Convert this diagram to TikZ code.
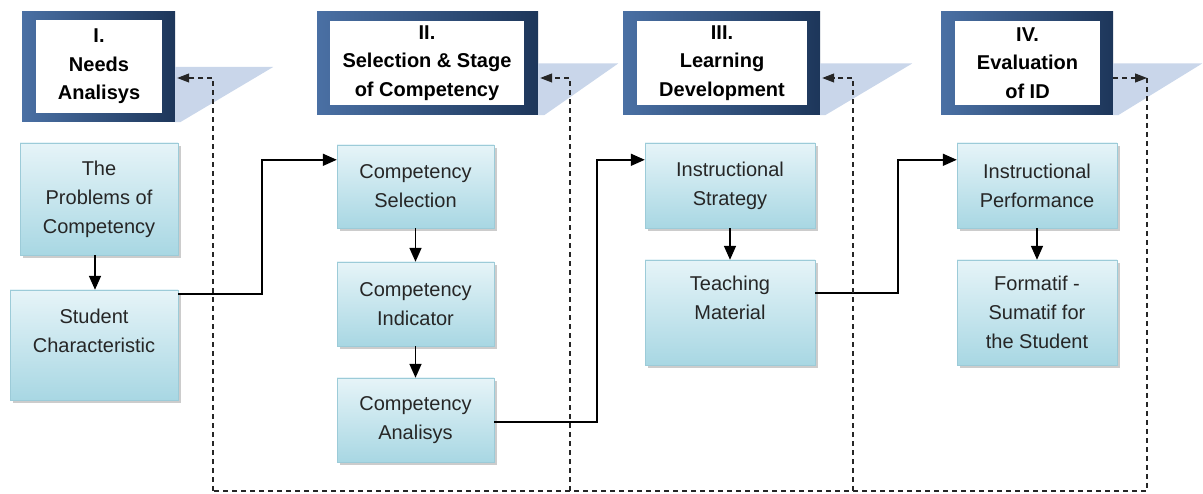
\documentclass[tikz,border=0pt]{standalone}
\usepackage{fontspec}
\setmainfont{Liberation Sans}
\usetikzlibrary{arrows.meta,shadows}

\definecolor{boxtop}{HTML}{E6F4F8}
\definecolor{boxbottom}{HTML}{A8D7E3}
\definecolor{boxline}{HTML}{9CCBD8}
\definecolor{framelight}{HTML}{4A70A4}
\definecolor{framedark}{HTML}{1D365A}
\definecolor{frameshade}{HTML}{C9D6EA}

\tikzset{
 stagebox/.style = {draw = boxline, top color = boxtop, bottom color = boxbottom, align = center, inner sep = 0pt, text = black!85, font = \fontsize{20}{29}\selectfont, drop shadow = {shadow xshift = 3pt, shadow yshift = -3pt, fill = black!40}},
 headframe/.style = {left color = framelight, right color = framedark, inner sep = 0pt},
 headbox/.style = {fill = white, align = center, inner sep = 0pt, font = \bfseries\fontsize{20}{28.5}\selectfont},
 headshadow/.style = {fill = frameshade},
 link/.style = {line width = 1.6pt, -{Triangle[length = 14pt, width = 12pt]}},
 feedback/.style = {line width = 1.1pt, black!85, dash pattern = on 5pt off 4pt},
 backtip/.style = {-{Triangle[length = 12pt, width = 9pt]}, shorten > = 2pt}
}

\begin{document}
\begin{tikzpicture}[x = 1pt, y = -1pt]
\useasboundingbox (0,0) rectangle (1203,494);

\node[headframe, minimum width = 153pt, minimum height = 110pt] (f1) at (98.5,67) {};
\node[headbox, minimum width = 126pt, minimum height = 93pt] (h1) at (99,66.5) {I.\\Needs\\Analisys};
\node[headframe, minimum width = 221pt, minimum height = 103pt] (f2) at (427.5,63.5) {};
\node[headbox, minimum width = 194pt, minimum height = 84pt] (h2) at (427,63) {II.\\Selection \& Stage\\of Competency};
\node[headframe, minimum width = 197pt, minimum height = 103pt] (f3) at (721.5,63.5) {};
\node[headbox, minimum width = 170pt, minimum height = 84pt] (h3) at (722,63) {III.\\Learning\\Development};
\node[headframe, minimum width = 172pt, minimum height = 103pt] (f4) at (1027,63.5) {};
\node[headbox, minimum width = 145pt, minimum height = 84pt] (h4) at (1027.5,63) {IV.\\Evaluation\\of ID};

\fill[headshadow] (f1.east) -- ++(98,0) -- ([xshift = 5pt]f1.south east) -- (f1.south east) -- cycle;
\fill[headshadow] (f2.east) -- ++(80,0) -- ([xshift = 6pt]f2.south east) -- (f2.south east) -- cycle;
\fill[headshadow] (f3.east) -- ++(92,0) -- ([xshift = 5pt]f3.south east) -- (f3.south east) -- cycle;
\fill[headshadow] (f4.east) -- ++(89,0) -- ([xshift = 5pt]f4.south east) -- (f4.south east) -- cycle;

\node[stagebox, minimum width = 158pt, minimum height = 112pt] (pc) at (99,199) {The\\Problems of\\Competency};
\node[stagebox, minimum width = 168pt, minimum height = 110pt] (sc) at (94,345) {Student\\Characteristic\\\mbox{}};
\node[stagebox, minimum width = 157pt, minimum height = 83pt] (cs) at (415.5,186.5) {Competency\\Selection};
\node[stagebox, minimum width = 157pt, minimum height = 84pt] (ci) at (415.5,304) {Competency\\Indicator};
\node[stagebox, minimum width = 157pt, minimum height = 84pt] (ca) at (415.5,420) {Competency\\Analisys};
\node[stagebox, minimum width = 170pt, minimum height = 85pt] (is) at (730,185.5) {Instructional\\Strategy};
\node[stagebox, minimum width = 170pt, minimum height = 105pt] (tm) at (730,312.5) {Teaching\\Material\\\mbox{}};
\node[stagebox, minimum width = 160pt, minimum height = 85pt] (ip) at (1037,185.5) {Instructional\\Performance};
\node[stagebox, minimum width = 160pt, minimum height = 105pt] (fs) at (1037,312.5) {Formatif -\\Sumatif for\\the Student};

\draw[link] ([xshift = -4pt]pc.south) -- ([xshift = 1pt]sc.north);
\draw[link] (cs) -- (ci);
\draw[link] (ci) -- (ca);
\draw[link] (is) -- (tm);
\draw[link] (ip) -- (fs);
\draw[link] ([yshift = -4pt]sc.north east) -- ++(84,0) |- ([yshift = -15pt]cs.north west);
\draw[link] ([yshift = -2pt]ca.east) -- ++(103,0) |- ([yshift = -17pt]is.north west);
\draw[link] ([yshift = -33pt]tm.north east) -- ++(83,0) |- ([yshift = -17pt]ip.north west);

\coordinate (d1) at (213,78);
\coordinate (d2) at (570,78);
\coordinate (d3) at (853,78);
\coordinate (d4) at (1147,78);
\coordinate (e1) at (213,491);
\coordinate (e2) at (570,491);
\coordinate (e3) at (853,491);
\coordinate (e4) at (1147,491);

\draw[feedback, -{Triangle[length = 12pt, width = 9pt]}] (f4.east |- d4) -- (d4);
\draw[feedback] (d4) -- (e4) -- (e1);
\draw[feedback, backtip] (e1) -- (d1) -- (f1.east |- d1);
\draw[feedback, backtip] (e2) -- (d2) -- (f2.east |- d2);
\draw[feedback, backtip] (e3) -- (d3) -- (f3.east |- d3);
\end{tikzpicture}
\end{document}
